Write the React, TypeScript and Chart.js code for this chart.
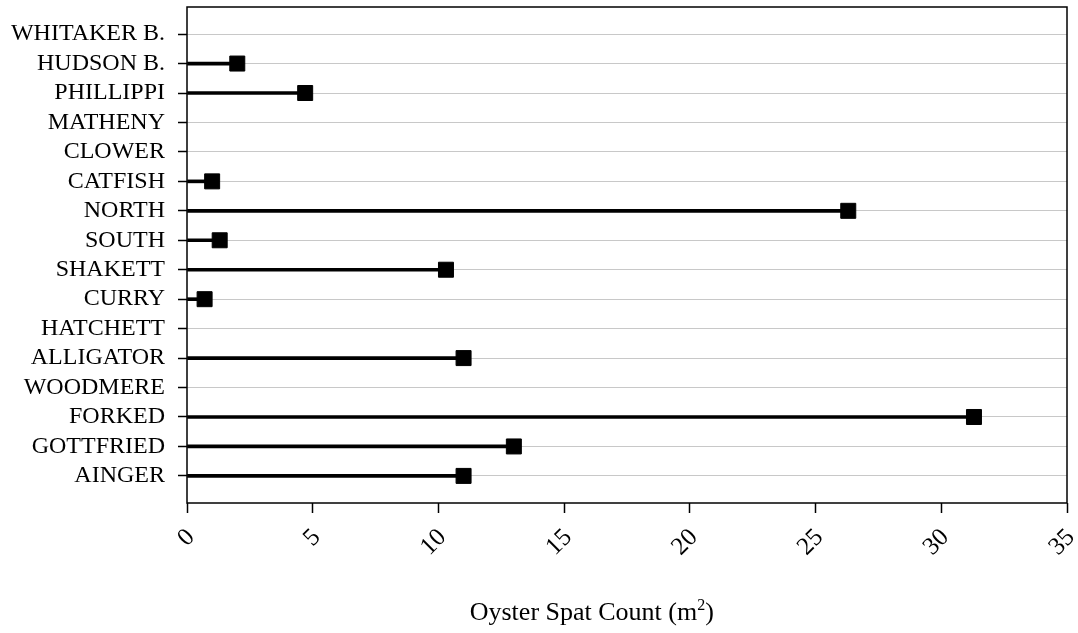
import React, { useEffect, useRef } from 'react';
import { Chart, registerables } from 'chart.js';

Chart.register(...registerables);

const sites: string[] = [
  'WHITAKER B.', 'HUDSON B.', 'PHILLIPPI', 'MATHENY', 'CLOWER', 'CATFISH', 'NORTH', 'SOUTH',
  'SHAKETT', 'CURRY', 'HATCHETT', 'ALLIGATOR', 'WOODMERE', 'FORKED', 'GOTTFRIED', 'AINGER',
];
const spatCounts: (number | null)[] = [
  null, 2.0, 4.7, null, null, 1.0, 26.3, 1.3,
  10.3, 0.7, null, 11.0, null, 31.3, 13.0, 11.0,
];
const xMin = 0;
const xMax = 35;
const xStep = 5;
const xTitleMain = 'Oyster Spat Count (m';
const xTitleSup = '2';
const xTitleEnd = ')';

const FONT = '"Liberation Serif", "Times New Roman", serif';

const framePlugin = {
  id: 'frameAndTitle',
  afterDraw(chart: any) {
    const { ctx, chartArea: a } = chart;
    ctx.save();
    ctx.strokeStyle = '#000';
    ctx.lineWidth = 1.5;
    ctx.strokeRect(a.left, a.top, a.right - a.left, a.bottom - a.top);

    ctx.fillStyle = '#000';
    ctx.textBaseline = 'alphabetic';
    ctx.textAlign = 'left';
    const mainFont = `26px ${FONT}`;
    const supFont = `16px ${FONT}`;
    ctx.font = mainFont;
    const w1 = ctx.measureText(xTitleMain).width;
    const w3 = ctx.measureText(xTitleEnd).width;
    ctx.font = supFont;
    const w2 = ctx.measureText(xTitleSup).width;
    const total = w1 + w2 + w3;
    const cx = a.left + (a.right - a.left) * 0.46;
    const x0 = cx - total / 2;
    const by = chart.height - 13;
    ctx.font = mainFont;
    ctx.fillText(xTitleMain, x0, by);
    ctx.font = supFont;
    ctx.fillText(xTitleSup, x0 + w1, by - 10);
    ctx.font = mainFont;
    ctx.fillText(xTitleEnd, x0 + w1 + w2, by);
    ctx.restore();
  },
};

export default function App() {
  const ref = useRef<HTMLCanvasElement>(null);

  useEffect(() => {
    const points = spatCounts
      .map((v, i) => (v == null ? null : { x: v, y: i }))
      .filter((p) => p != null) as { x: number; y: number }[];

    const chart = new Chart(ref.current as HTMLCanvasElement, {
      type: 'bar',
      data: {
        datasets: [
          {
            type: 'bar',
            data: points,
            backgroundColor: '#000',
            borderWidth: 0,
            barThickness: 3,
            indexAxis: 'y',
            order: 2,
          } as any,
          {
            type: 'scatter',
            data: points,
            pointStyle: 'rect',
            pointRadius: 10.6,
            pointBackgroundColor: '#000',
            pointBorderColor: '#000',
            pointBorderWidth: 1,
            clip: false,
            order: 1,
          } as any,
        ],
      },
      options: {
        indexAxis: 'y',
        responsive: false,
        devicePixelRatio: 1,
        animation: false,
        events: [],
        layout: { autoPadding: false, padding: { left: 0, top: 7, right: 11, bottom: 0 } },
        plugins: {
          legend: { display: false },
          tooltip: { enabled: false },
          title: { display: false },
        },
        scales: {
          x: {
            type: 'linear',
            position: 'bottom',
            min: xMin,
            max: xMax,
            offset: false,
            border: { display: false },
            grid: {
              offset: false,
              drawOnChartArea: false,
              drawTicks: true,
              tickLength: 10,
              tickColor: '#000',
              tickWidth: 1.5,
            },
            ticks: {
              stepSize: xStep,
              minRotation: 45,
              maxRotation: 45,
              padding: 10,
              labelOffset: 4,
              color: '#000',
              font: { family: FONT, size: 25 },
            },
            afterFit(scale: any) {
              scale.height = 130;
              scale.paddingLeft = 0;
              scale.paddingRight = 0;
            },
          },
          y: {
            type: 'linear',
            position: 'left',
            reverse: true,
            min: -0.92,
            max: sites.length - 1 + 0.92,
            offset: false,
            border: { display: false },
            afterBuildTicks(scale: any) {
              scale.ticks = sites.map((_, i) => ({ value: i }));
            },
            grid: {
              offset: false,
              color: '#c8c8c8',
              lineWidth: 1,
              drawTicks: true,
              tickLength: 9,
              tickColor: '#000',
              tickWidth: 1.5,
            },
            ticks: {
              autoSkip: false,
              padding: 13,
              color: '#000',
              font: { family: FONT, size: 24 },
              callback: (value: any) => sites[Math.round(Number(value))] ?? '',
            },
            afterFit(scale: any) {
              scale.width = 187;
              scale.paddingTop = 0;
              scale.paddingBottom = 0;
            },
          },
        },
      } as any,
      plugins: [framePlugin],
    });
    return () => chart.destroy();
  }, []);

  return (
    <div style={{ position: 'fixed', left: 0, top: 0, width: 1078, height: 633, background: '#fff' }}>
      <canvas ref={ref} width={1078} height={633} style={{ display: 'block', width: 1078, height: 633 }} />
    </div>
  );
}
